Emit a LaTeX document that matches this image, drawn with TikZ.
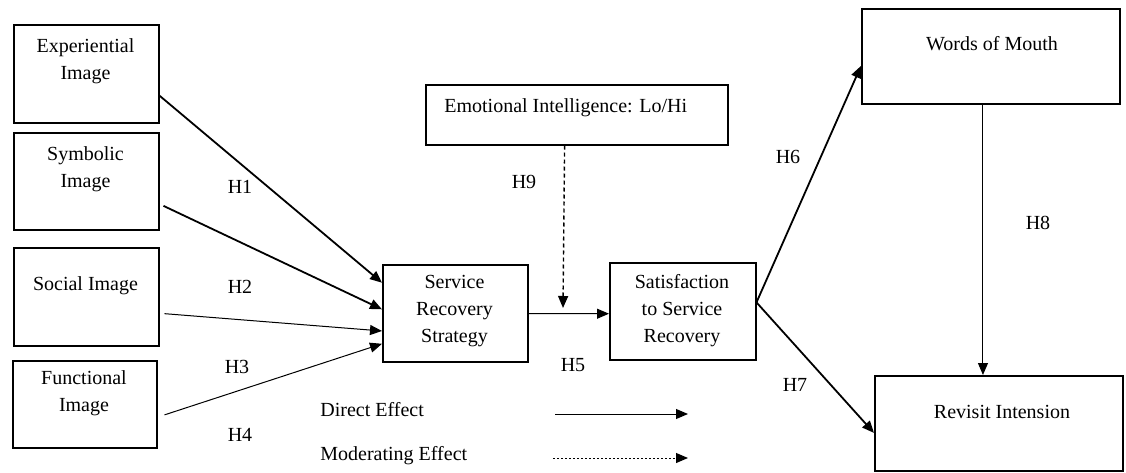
\documentclass[tikz,border=0pt]{standalone}
\usepackage{fontspec}
\setmainfont{Liberation Serif}
\usetikzlibrary{arrows.meta,calc}

\tikzset{
  box/.style={draw, line width=0.75pt, anchor=north west, inner sep=0pt},
  txt/.style={align=center, inner sep=0pt, font=\fontsize{10}{13.5}\selectfont},
  lbl/.style={inner sep=0pt, font=\fontsize{10}{12}\selectfont},
  tip/.style={-{Triangle[length=6pt,width=5pt]}},
  heavy/.style={tip, line width=0.9pt},
  light/.style={tip, line width=0.5pt},
  moddash/.style={tip, line width=0.7pt, dash pattern=on 2pt off 1.5pt},
  legdash/.style={tip, line width=0.5pt, dash pattern=on 1.2pt off 0.8pt}
}

\begin{document}
\begin{tikzpicture}[x=0.5pt, y=-0.5pt]
  \useasboundingbox (0,0) rectangle (1126,472);

  % image dimensions on the left
  \node[box, minimum width=72.5pt, minimum height=49pt]   (exp) at (13,24)  {};
  \node[box, minimum width=72.5pt, minimum height=48.5pt] (sym) at (13,132) {};
  \node[box, minimum width=72.5pt, minimum height=49pt]   (soc) at (13,247) {};
  \node[box, minimum width=72pt,   minimum height=43.5pt] (fun) at (12,360) {};
  \node[txt] (expT) at (85.5,61.5) {Experiential\\Image};
  \node[txt] (symT) at (85.5,169)  {Symbolic\\Image};
  \node[txt] (socT) at (85.5,286)  {Social Image};
  \node[txt] (funT) at (84,393.5)  {Functional\\Image};

  % mediators
  \node[box, minimum width=72.5pt, minimum height=48.5pt] (srs) at (382,264) {};
  \node[box, minimum width=73pt,   minimum height=48.5pt] (sat) at (609,262) {};
  \node[txt] (srsT) at (454.5,311.5) {Service\\Recovery\\Strategy};
  \node[txt] (satT) at (682,310.5)   {Satisfaction\\to Service\\Recovery};

  % moderator
  \node[box, minimum width=151pt, minimum height=30pt] (ei) at (425,84) {};
  \node[txt, anchor=west] (eiT) at (444,108) {Emotional Intelligence: Lo/Hi};

  % outcomes
  \node[box, minimum width=129pt, minimum height=47.5pt] (wom) at (861,8)   {};
  \node[box, minimum width=124pt, minimum height=47.5pt] (rev) at (874,375) {};
  \node[txt] (womT) at (992,44)  {Words of Mouth};
  \node[txt] (revT) at (1002,412) {Revisit Intension};

  % direct paths into the strategy
  \draw[heavy] ($(exp.north east)!0.72!(exp.south east)$) -- ($(srs.north west)!0.19!(srs.south west)$);
  \draw[heavy] ($(sym.north east)!0.75!(sym.south east)$) ++(4,0) -- ($(srs.north west)!0.46!(srs.south west)$);
  \draw[light] ($(soc.north east)!0.67!(soc.south east)$) ++(5,0) -- ($(srs.north west)!0.68!(srs.south west)$);
  \draw[light] ($(fun.north east)!0.62!(fun.south east)$) ++(7,0) -- ($(srs.north west)!0.81!(srs.south west)$);

  % strategy to satisfaction, with moderation
  \draw[light] ($(srs.north east)!0.505!(srs.south east)$) -- ($(sat.north west)!0.525!(sat.south west)$);
  \coordinate (modEnd) at (563,308);
  \draw[moddash] ($(ei.south west)!0.46!(ei.south east)$) -- (modEnd);

  % satisfaction to outcomes
  \coordinate (satOut) at ($(sat.north east)!0.41!(sat.south east)$);
  \draw[heavy] (satOut) -- ($(wom.north west)!0.6!(wom.south west)$);
  \draw[heavy] (satOut) -- ($(rev.north west)!0.6!(rev.south west)$);
  \coordinate (womOut) at ($(wom.south west)!0.47!(wom.south east)$);
  \draw[light] (womOut) -- (womOut |- rev.north);

  % hypothesis labels
  \node[lbl] (h1) at (240,187) {H1};
  \node[lbl] (h2) at (240,287) {H2};
  \node[lbl] (h3) at (237,367) {H3};
  \node[lbl] (h4) at (240,435) {H4};
  \node[lbl] (h5) at (573,365) {H5};
  \node[lbl] (h6) at (788,157) {H6};
  \node[lbl] (h7) at (795,385) {H7};
  \node[lbl] (h8) at (1038,223) {H8};
  \node[lbl] (h9) at (524,182) {H9};

  % legend
  \node[lbl, anchor=west] (legD) at (320,410) {Direct Effect};
  \node[lbl, anchor=west] (legM) at (320,456) {Moderating Effect};
  \coordinate (dA) at (555,414);
  \coordinate (dB) at (688,414);
  \coordinate (mA) at (553,458);
  \coordinate (mB) at (688,458);
  \draw[light] (dA) -- (dB);
  \draw[legdash] (mA) -- (mB);
\end{tikzpicture}
\end{document}
